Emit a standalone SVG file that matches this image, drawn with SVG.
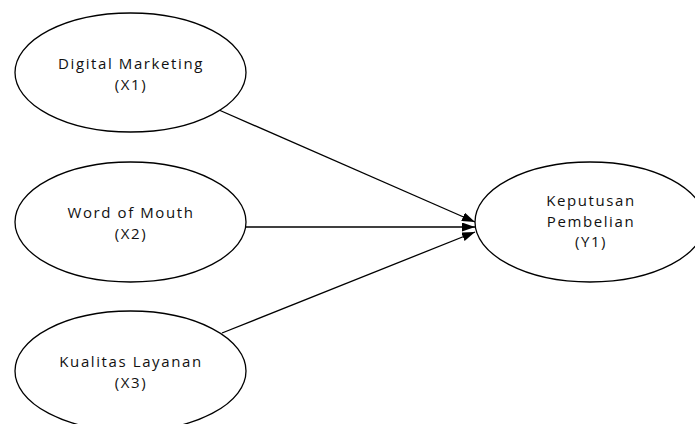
<svg xmlns="http://www.w3.org/2000/svg" width="695" height="424" viewBox="0 0 695 424">
<style>
.node ellipse{fill:#fff;stroke:#000;stroke-width:1.3}
.node text{font-family:"Open Sans","Noto Sans",sans-serif;font-size:15px;fill:#111;text-anchor:middle;letter-spacing:1.6px}
.edges line{stroke:#000;stroke-width:1.3;marker-end:url(#arr)}
</style>
<defs>
<marker id="arr" viewBox="0 0 13 9" refX="13" refY="4.5" markerWidth="13" markerHeight="9" markerUnits="userSpaceOnUse" orient="auto">
<path d="M0,0 L13,4.5 L0,9 Z" fill="#000"/>
</marker>
</defs>
<rect width="695" height="424" fill="#fff"/>
<g class="edges">
<line x1="219" y1="110" x2="475" y2="222"/>
<line x1="246" y1="227" x2="475" y2="227"/>
<line x1="222" y1="333" x2="475" y2="232"/>
</g>
<g id="x1" class="node">
<ellipse cx="130.5" cy="72.5" rx="115.5" ry="59.5"/>
<text x="131" y="68.5">Digital Marketing</text>
<text x="131" y="89.5">(X1)</text>
</g>
<g id="x2" class="node">
<ellipse cx="130.5" cy="222" rx="115.5" ry="60"/>
<text x="131" y="217.5">Word of Mouth</text>
<text x="131" y="238.5">(X2)</text>
</g>
<g id="x3" class="node">
<ellipse cx="130.5" cy="371" rx="115.5" ry="60"/>
<text x="131" y="366.5">Kualitas Layanan</text>
<text x="131" y="387.5">(X3)</text>
</g>
<g id="y1" class="node">
<ellipse cx="590" cy="222" rx="115" ry="60"/>
<text x="591" y="206">Keputusan</text>
<text x="591" y="226.5">Pembelian</text>
<text x="591" y="247">(Y1)</text>
</g>
</svg>
